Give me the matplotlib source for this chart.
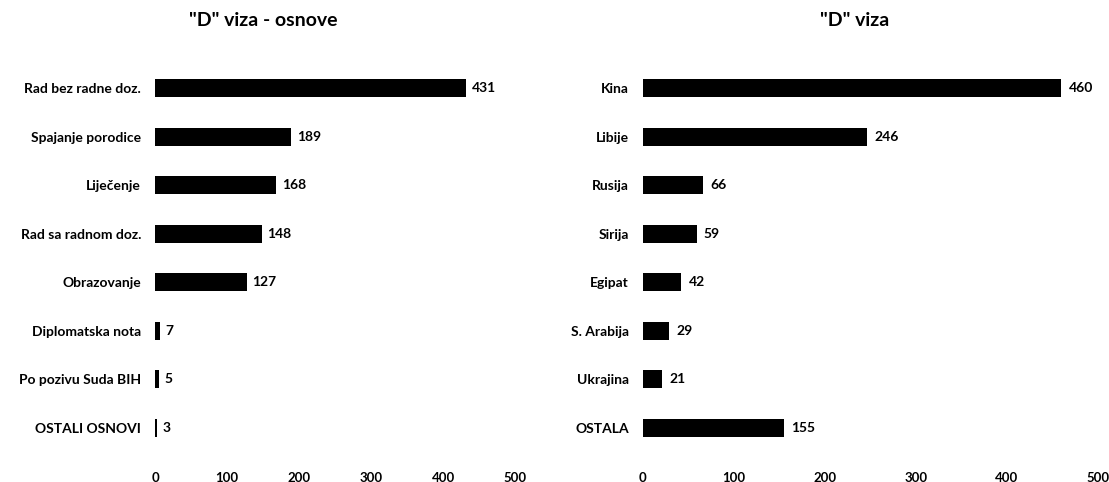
import matplotlib.pyplot as plt

# data
osnove_labels = ["Rad bez radne doz.", "Spajanje porodice", "Liječenje", "Rad sa radnom doz.",
                 "Obrazovanje", "Diplomatska nota", "Po pozivu Suda BIH", "OSTALI OSNOVI"]
osnove_values = [431, 189, 168, 148, 127, 7, 5, 3]

drzave_labels = ["Kina", "Libije", "Rusija", "Sirija", "Egipat", "S. Arabija", "Ukrajina", "OSTALA"]
drzave_values = [460, 246, 66, 59, 42, 29, 21, 155]

plt.rcParams['font.family'] = ['Lato', 'DejaVu Sans']
plt.rcParams['font.weight'] = 'bold'

fig = plt.figure(figsize=(11.09, 4.82), dpi=100)
ax1 = fig.add_axes([0.1398, 0.062, 0.325, 0.805])
ax2 = fig.add_axes([0.5798, 0.062, 0.41, 0.805])

def draw(ax, labels, values):
    y = list(range(len(labels)))
    ax.barh(y, values, height=0.37, color='black')
    for yi, v in zip(y, values):
        ax.text(v + 8, yi, str(v), va='center', ha='left', fontsize=10, fontweight='bold')
    ax.set_yticks(y)
    ax.set_yticklabels(labels, fontsize=10, fontweight='bold')
    ax.set_ylim(len(labels) - 0.5, -0.5)
    ax.set_xlim(0, 500)
    ax.set_xticks([0, 100, 200, 300, 400, 500])
    ax.tick_params(axis='both', length=0)
    ax.tick_params(axis='x', pad=14, labelsize=9.5)
    ax.tick_params(axis='y', pad=10)
    for s in ax.spines.values():
        s.set_visible(False)

draw(ax1, osnove_labels, osnove_values)
draw(ax2, drzave_labels, drzave_values)

fig.text(0.237, 0.958, '"D" viza - osnove', ha='center', va='center', fontsize=14, fontweight='bold')
fig.text(0.771, 0.958, '"D" viza', ha='center', va='center', fontsize=14, fontweight='bold')

fig.savefig('out.png', dpi=100)
